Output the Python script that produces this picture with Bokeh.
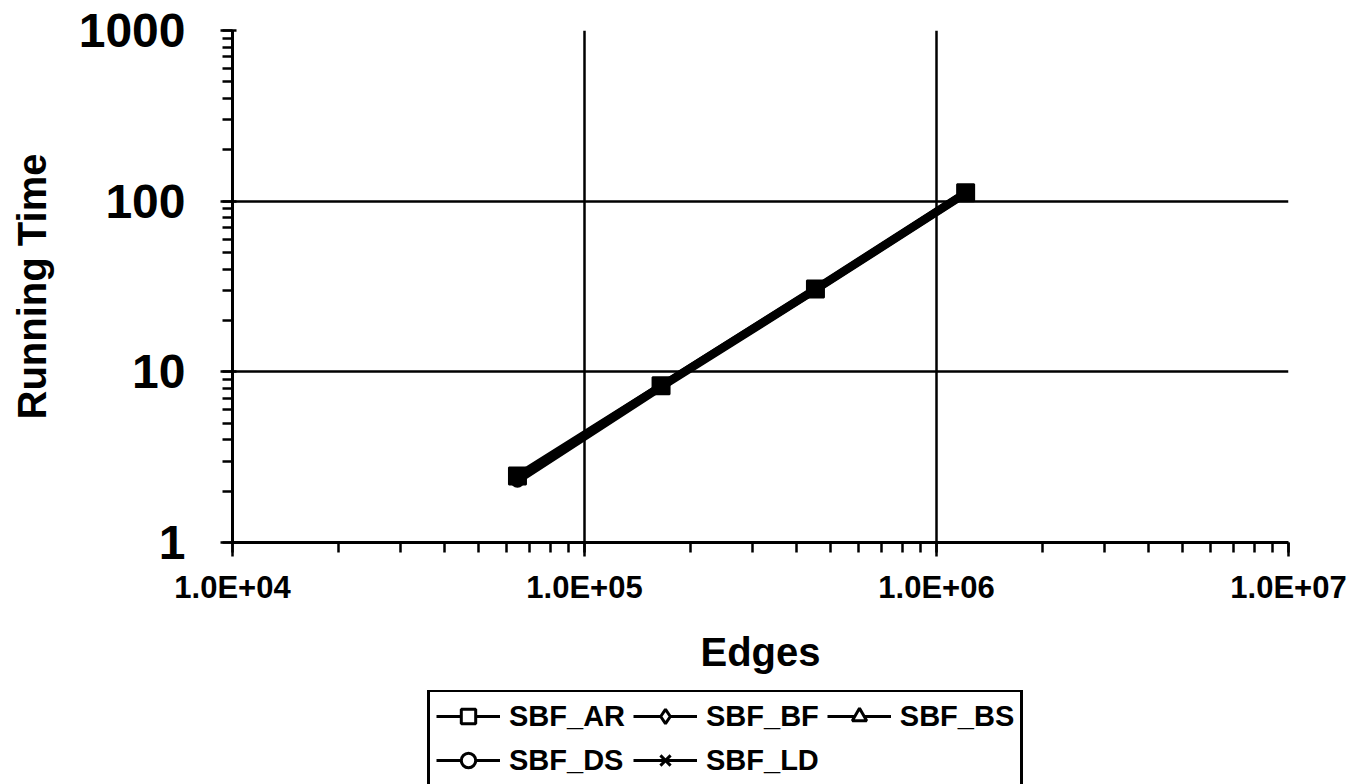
from bokeh.plotting import figure
from bokeh.layouts import column
from bokeh.models import (ColumnDataSource, Legend, LegendItem, FixedTicker,
                          CustomJSTickFormatter, LogTicker, Range1d)
from bokeh.embed import file_html
from bokeh.resources import INLINE

# ---- data ----
edges = [64500, 165000, 453000, 1210000]
sbf_ar = [2.45, 8.3, 30.6, 112]
sbf_bf = [2.35, 8.2, 30.2, 111]
sbf_bs = [2.40, 8.3, 30.8, 113]
sbf_ds = [2.30, 8.1, 30.0, 110]
sbf_ld = [2.40, 8.2, 30.4, 112]

series_names = ["SBF_AR", "SBF_BF", "SBF_BS", "SBF_DS", "SBF_LD"]
series_values = [sbf_ar, sbf_bf, sbf_bs, sbf_ds, sbf_ld]
series_markers = ["square", "diamond", "triangle", "circle", "x"]

x_range_vals = [1e4, 1e7]
y_range_vals = [1, 1000]
x_grid_ticks = [1e5, 1e6]
y_grid_ticks = [10, 100]

FONT = "Liberation Sans"
LEFT, RIGHT = 232, 72

p = figure(width=1360, height=680, x_axis_type="log", y_axis_type="log",
           x_range=Range1d(*x_range_vals), y_range=Range1d(*y_range_vals),
           output_backend="svg", toolbar_location=None,
           min_border_left=LEFT, min_border_right=RIGHT,
           min_border_top=30, min_border_bottom=138)
p.outline_line_color = None
p.background_fill_color = "white"
p.border_fill_color = "white"

# grids
p.xgrid.ticker = FixedTicker(ticks=x_grid_ticks)
p.ygrid.ticker = FixedTicker(ticks=y_grid_ticks)
for g in (p.xgrid, p.ygrid):
    g.grid_line_color = "black"
    g.grid_line_width = 2.5
    g.grid_line_alpha = 1

marker_sizes = {"square": 17, "diamond": 14, "triangle": 12, "circle": 12, "x": 14}
for vals in series_values:
    src = ColumnDataSource(dict(x=edges, y=vals))
    p.line("x", "y", source=src, line_color="black", line_width=7)
for vals, marker in zip(series_values, series_markers):
    src = ColumnDataSource(dict(x=edges, y=vals))
    p.scatter("x", "y", source=src, marker=marker, size=marker_sizes[marker],
              line_color="black", line_width=2, fill_color="black")

# axes
xa = p.xaxis[0]
ya = p.yaxis[0]
xa.ticker = LogTicker(num_minor_ticks=10)
ya.ticker = LogTicker(num_minor_ticks=10)
xa.formatter = CustomJSTickFormatter(code="""
const e = Math.round(Math.log10(tick));
return "1.0E+" + (e < 10 ? "0" : "") + e;
""")
ya.formatter = CustomJSTickFormatter(code="return String(Math.round(tick));")

for ax in (xa, ya):
    ax.axis_line_color = "black"
    ax.axis_line_width = 3
    ax.major_tick_line_color = "black"
    ax.major_tick_line_width = 2.5
    ax.minor_tick_line_color = "black"
    ax.minor_tick_line_width = 2.5
    ax.major_label_text_font = FONT
    ax.major_label_text_font_style = "bold"
    ax.major_label_text_color = "black"
    ax.axis_label_text_font = FONT
    ax.axis_label_text_font_style = "bold"
    ax.axis_label_text_color = "black"
    ax.axis_label_text_font_size = "40px"

xa.axis_label = "Edges"
xa.major_label_text_font_size = "31px"
xa.major_tick_out = 14
xa.major_tick_in = 0
xa.minor_tick_out = 10
xa.minor_tick_in = 0
xa.major_label_standoff = 13
xa.axis_label_standoff = 22

ya.axis_label = "Running Time"
ya.major_label_text_font_size = "48px"
ya.major_tick_out = 12
ya.major_tick_in = 4
ya.minor_tick_out = 10
ya.minor_tick_in = 0
ya.major_label_standoff = 35
ya.axis_label_standoff = 22

# ---- legend strip (separate figure below the chart) ----
q = figure(width=1360, height=104, output_backend="svg", toolbar_location=None,
           x_range=Range1d(0, 1), y_range=Range1d(0, 1),
           min_border_left=LEFT, min_border_right=RIGHT,
           min_border_top=10, min_border_bottom=0)
q.axis.visible = False
q.grid.visible = False
q.outline_line_color = None
q.background_fill_color = "white"
q.border_fill_color = "white"

# legend renderers carry the series data; q's 0..1 range keeps them out of view
leg_sizes = {"square": 14, "diamond": 12, "triangle": 12, "circle": 14, "x": 14}
leg_items = []
for name, vals, marker in zip(series_names, series_values, series_markers):
    src = ColumnDataSource(dict(x=edges, y=vals))
    l = q.line("x", "y", source=src, line_color="black", line_width=3)
    m = q.scatter("x", "y", source=src, marker=marker, size=leg_sizes[marker],
                  line_color="black", line_width=3, fill_color="white")
    leg_items.append(LegendItem(label=name, renderers=[l, m]))

legend = Legend(items=leg_items, orientation="horizontal", ncols=3,
                location=(195, -3))
legend.label_text_font = FONT
legend.label_text_font_style = "bold"
legend.label_text_font_size = "29px"
legend.label_text_color = "black"
legend.glyph_width = 64
legend.glyph_height = 36
legend.label_height = 36
legend.label_standoff = 9
legend.spacing = 8
legend.padding = 6
legend.margin = 0
legend.border_line_color = "black"
legend.border_line_width = 3
legend.border_line_alpha = 1
legend.background_fill_color = "white"
legend.background_fill_alpha = 1
q.add_layout(legend, "center")

open("out.html", "w").write(file_html(column(p, q, spacing=0), INLINE))
